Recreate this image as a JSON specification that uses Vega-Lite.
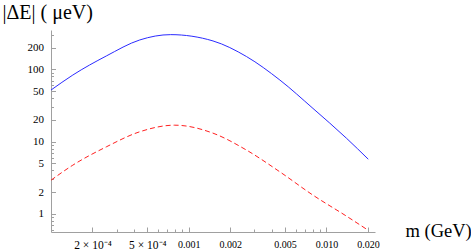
{
  "$schema": "https://vega.github.io/schema/vega-lite/v6.json",
  "autosize": "none",
  "width": 324,
  "height": 202,
  "padding": {"left": 51, "top": 30, "right": 96, "bottom": 20},
  "background": "white",
  "config": {
    "view": {"stroke": null},
    "font": "Liberation Serif",
    "axis": {"grid": false, "domainColor": "#a0a0a0", "tickColor": "#a0a0a0", "labelColor": "black", "labelFont": "Liberation Serif", "labelFontSize": 10, "titleFont": "Liberation Serif", "titleFontWeight": "normal", "titleColor": "black"}
  },
  "data": {"values": [
    {"m": 0.0001, "dE": 51.7, "s": "a"},
    {"m": 0.000144, "dE": 83.4, "s": "a"},
    {"m": 0.000252, "dE": 153, "s": "a"},
    {"m": 0.000441, "dE": 255, "s": "a"},
    {"m": 0.00074, "dE": 302, "s": "a"},
    {"m": 0.0015, "dE": 247, "s": "a"},
    {"m": 0.00263, "dE": 150, "s": "a"},
    {"m": 0.00459, "dE": 71.1, "s": "a"},
    {"m": 0.00798, "dE": 28.8, "s": "a"},
    {"m": 0.014, "dE": 11.1, "s": "a"},
    {"m": 0.0201, "dE": 5.72, "s": "a"},
    {"m": 0.0001, "dE": 2.93, "s": "b"},
    {"m": 0.000144, "dE": 4.73, "s": "b"},
    {"m": 0.000252, "dE": 8.47, "s": "b"},
    {"m": 0.000441, "dE": 13.7, "s": "b"},
    {"m": 0.00079, "dE": 16.9, "s": "b"},
    {"m": 0.0015, "dE": 13.1, "s": "b"},
    {"m": 0.00263, "dE": 7.63, "s": "b"},
    {"m": 0.00459, "dE": 3.82, "s": "b"},
    {"m": 0.00798, "dE": 1.82, "s": "b"},
    {"m": 0.014, "dE": 0.93, "s": "b"},
    {"m": 0.0201, "dE": 0.594, "s": "b"}
  ]},
  "layer": [
    {
      "transform": [{"filter": "datum.s == 'a'"}],
      "mark": {"type": "line", "color": "#2b2bff", "strokeWidth": 1, "interpolate": "monotone", "clip": true},
      "encoding": {
        "x": {"field": "m", "type": "quantitative",
          "scale": {"type": "log", "domain": [0.0001, 0.0225], "nice": false},
          "axis": {"orient": "bottom", "values": [0.0002, 0.0005, 0.001, 0.002, 0.005, 0.01, 0.02],
            "labelExpr": "datum.value < 0.0003 ? '2 × 10⁻⁴' : datum.value < 0.0008 ? '5 × 10⁻⁴' : format(datum.value, '.3f')",
            "labelFontSize": {"condition": {"test": "datum.value < 0.0008", "value": 11.5}, "value": 10},
            "tickSize": -5, "labelPadding": 12, "labelFlush": false, "labelOverlap": false,
            "title": "m  (GeV)", "titleFontSize": 18.5, "titleAnchor": "start", "titleAlign": "left", "titleBaseline": "alphabetic", "titleX": 354, "titleY": 4}},
        "y": {"field": "dE", "type": "quantitative",
          "scale": {"type": "log", "domain": [0.563, 350], "nice": false},
          "axis": {"orient": "left", "values": [1, 2, 5, 10, 20, 50, 100, 200], "format": ".0f", "labelFontSize": 11,
            "tickSize": -4.5, "labelPadding": 12, "labelFlush": false, "labelOverlap": false,
            "title": "|ΔE| ( μeV)", "titleFontSize": 20, "titleAngle": 0, "titleAnchor": "start", "titleAlign": "left", "titleBaseline": "alphabetic", "titleX": -49, "titleY": -12}}
      }
    },
    {
      "transform": [{"filter": "datum.s == 'b'"}],
      "mark": {"type": "line", "color": "#ff2020", "strokeWidth": 1, "strokeDash": [5, 3], "interpolate": "monotone", "clip": true},
      "encoding": {
        "x": {"field": "m", "type": "quantitative",
          "scale": {"type": "log", "domain": [0.0001, 0.0225], "nice": false},
          "axis": {"orient": "bottom", "values": [0.0003, 0.0004, 0.0006, 0.0007, 0.0008, 0.0009, 0.003, 0.004, 0.006, 0.007, 0.008, 0.009],
            "tickSize": -3, "labels": false, "domain": false, "title": null}},
        "y": {"field": "dE", "type": "quantitative",
          "scale": {"type": "log", "domain": [0.563, 350], "nice": false},
          "axis": {"orient": "left", "values": [0.6, 0.7, 0.8, 0.9, 3, 4, 6, 7, 8, 9, 30, 40, 60, 70, 80, 90, 300],
            "tickSize": -2.5, "labels": false, "domain": false, "title": null}}
      }
    }
  ],
  "resolve": {"axis": {"x": "independent", "y": "independent"}}
}
